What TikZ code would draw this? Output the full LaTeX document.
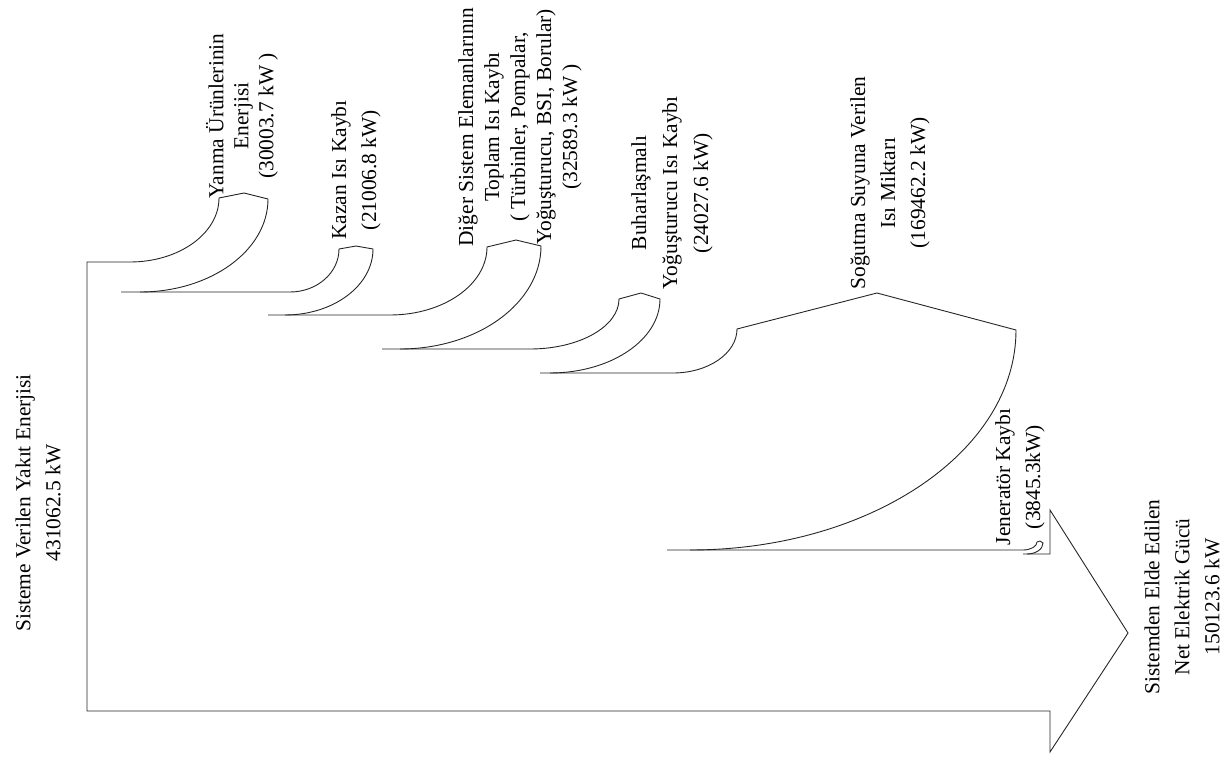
\documentclass[tikz,border=0pt]{standalone}
\usepackage{fontspec}
\setmainfont{Liberation Serif}
\begin{document}
\begin{tikzpicture}[x=1pt,y=-1pt,
  flow/.style={draw=black!85, line width=0.9pt, line join=miter},
  lbl/.style={rotate=90, align=center, inner sep=0pt, font=\fontsize{21.4}{#1}\selectfont}]
\useasboundingbox (0,0) rectangle (1232,757);
% main outline with arrow
\draw[flow] (1023,554) -- (1050,554) -- (1050,510) -- (1128,633) -- (1050,752) -- (1050,711) -- (87,711) -- (87,262) -- (130,262)
  .. controls (179.2,262) and (219,233.3) .. (219,198) -- (244,193) -- (268,199)
  .. controls (268,250.4) and (210.7,292) .. (140,292);
% top edges between branches
\draw[flow] (121,292) -- (290,292) .. controls (317.1,292) and (339,272.7) .. (339,249) -- (356,246) -- (373,249)
  .. controls (373,285.5) and (333.6,315) .. (285,315);
\draw[flow] (268,315) -- (390,315) .. controls (443.6,315) and (487,284.6) .. (487,247) -- (516,240) -- (541,246)
  .. controls (541,302.9) and (477.9,349) .. (400,349);
\draw[flow] (382,349) -- (530,349) .. controls (579.2,349) and (619,326.6) .. (619,299) -- (641,293) -- (660,299)
  .. controls (660,339.9) and (610.8,373) .. (550,373);
\draw[flow] (540,373) -- (673,373) .. controls (708.3,373) and (737,353.3) .. (737,329) -- (877,293) -- (1016,330)
  .. controls (1016,451.5) and (870,550) .. (690,550);
\draw[flow] (667,550) -- (1023,550) .. controls (1030.7,550) and (1037,546.4) .. (1037,542) -- (1040,541) -- (1043,543)
  .. controls (1043,549.1) and (1035.8,554) .. (1027,554);
% labels
\node[lbl=30] (in) at (38,503) {Sisteme Verilen Yakıt Enerjisi\\431062.5 kW};
\node[lbl=25] (l1) at (242,116) {Yanma Ürünlerinin\\Enerjisi\\(30003.7 kW )};
\node[lbl=30] (l2) at (356,170) {Kazan Isı Kaybı\\(21006.8 kW)};
\node[lbl=26] (l3) at (520,127) {Diğer Sistem Elemanlarının\\Toplam Isı Kaybı\\( Türbinler, Pompalar,\\Yoğuşturucu, BSI, Borular)\\(32589.3 kW )};
\node[lbl=31] (l4) at (672,193) {Buharlaşmalı\\Yoğuşturucu Isı Kaybı\\(24027.6 kW)};
\node[lbl=30] (l5) at (890,183) {Soğutma Suyuna Verilen\\Isı Miktarı\\(169462.2 kW)};
\node[lbl=30] (l6) at (1020,477) {Jeneratör Kaybı\\(3845.3kW)};
\node[lbl=30] (out) at (1182,597) {Sistemden Elde Edilen\\Net Elektrik Gücü\\150123.6 kW};
\end{tikzpicture}
\end{document}
